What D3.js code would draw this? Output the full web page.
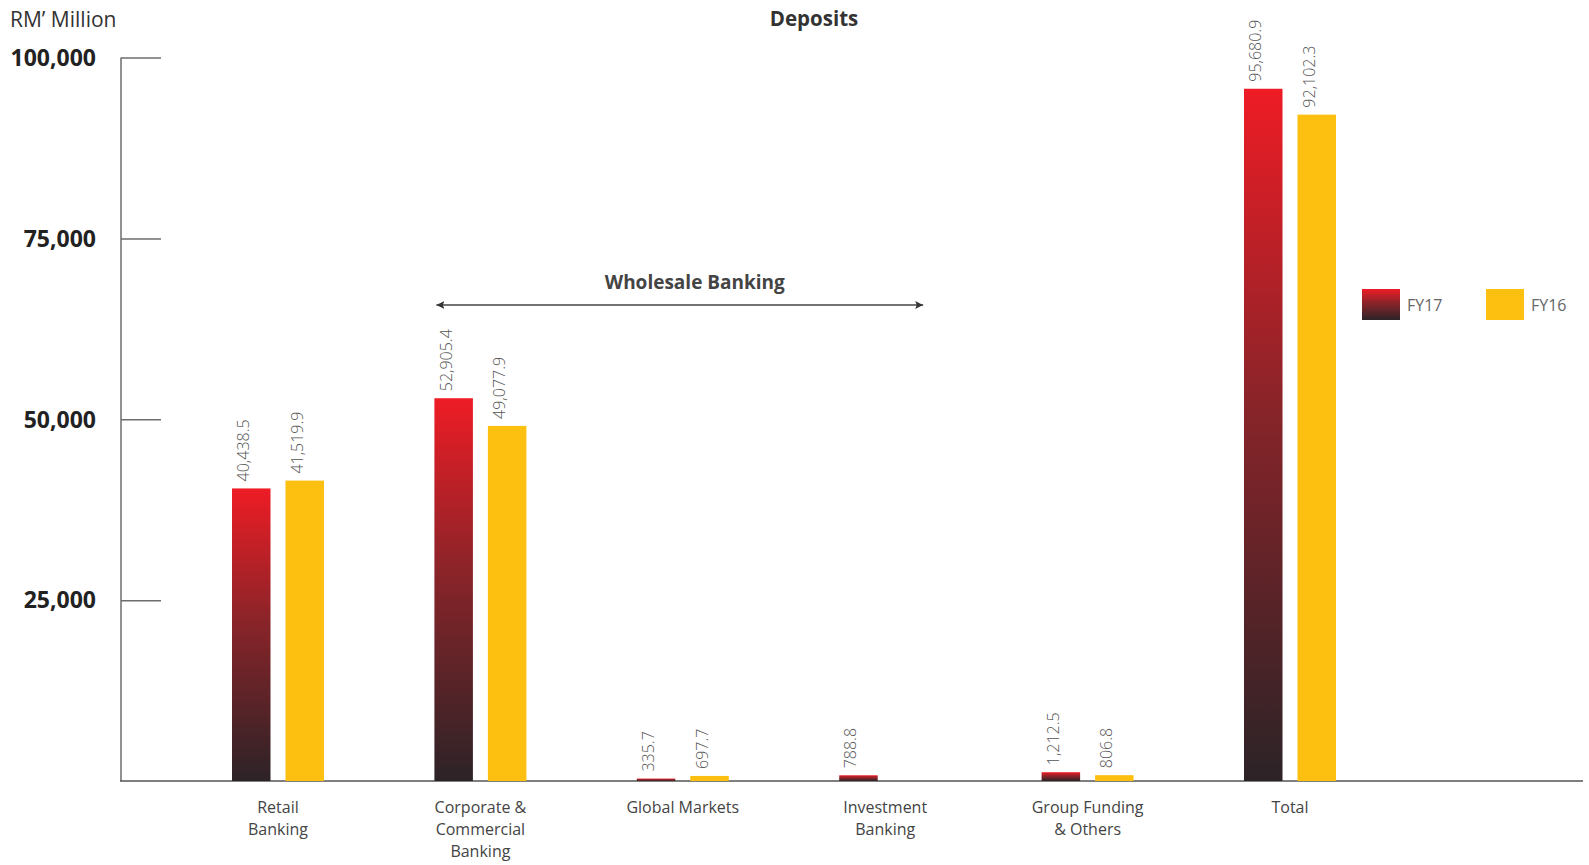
<!DOCTYPE html>
<html>
<head>
<meta charset="utf-8">
<script src="https://cdn.jsdelivr.net/npm/d3@7"></script>
<style>
  html, body { margin: 0; padding: 0; background: #fff; }
  svg { display: block; font-family: "Open Sans", "Noto Sans", sans-serif; }
</style>
</head>
<body>
<svg id="chart" width="1589" height="865"></svg>
<script>
const categories = [
  ["Retail", "Banking"],
  ["Corporate &", "Commercial", "Banking"],
  ["Global Markets"],
  ["Investment", "Banking"],
  ["Group Funding", "& Others"],
  ["Total"]
];
const seriesNames = ["FY17", "FY16"];
const fy17 = [40438.5, 52905.4, 335.7, 788.8, 1212.5, 95680.9];
const fy16 = [41519.9, 49077.9, 697.7, null, 806.8, 92102.3];
const yTicks = [25000, 50000, 75000, 100000];
const title = "Deposits";
const unitLabel = "RM\u2019 Million";
const bracketLabel = "Wholesale Banking";

const svg = d3.select("#chart");
const catKeys = categories.map(c => c.join(" "));

const y = d3.scaleLinear().domain([0, 100000]).range([781, 57.5]);
const step = 202.4, pi = 0.5455, po = 0.5;
const x0 = d3.scaleBand().domain(catKeys)
  .range([232 - po * step, 232 - po * step + step * (catKeys.length - pi + 2 * po)])
  .paddingInner(pi).paddingOuter(po);
const x1 = d3.scaleBand().domain(seriesNames).range([0, x0.bandwidth()]).paddingInner(0.28).paddingOuter(0);

// gradient for FY17
const defs = svg.append("defs");
const grad = defs.append("linearGradient").attr("id", "gradFY17")
  .attr("x1", 0).attr("y1", 0).attr("x2", 0).attr("y2", 1);
grad.append("stop").attr("offset", "0%").attr("stop-color", "#ee1c25");
grad.append("stop").attr("offset", "45%").attr("stop-color", "#8a2429");
grad.append("stop").attr("offset", "100%").attr("stop-color", "#2c2327");
const fills = { FY17: "url(#gradFY17)", FY16: "#fdc010" };

// Title + unit
svg.append("text").attr("x", 814).attr("y", 26).attr("text-anchor", "middle")
  .attr("font-size", 20.5).attr("font-weight", 700).attr("fill", "#333").text(title);
svg.append("text").attr("x", 10).attr("y", 27)
  .attr("font-size", 21).attr("fill", "#333").text(unitLabel);

// Y axis
const yAxis = d3.axisRight(y).tickValues(yTicks).tickSize(40).tickFormat("");
const gy = svg.append("g").attr("transform", "translate(121,0)").call(yAxis);
gy.select(".domain").remove();
gy.selectAll(".tick line").attr("stroke", "#6d6d6d").attr("stroke-width", 1.5);
svg.append("line").attr("x1", 121).attr("x2", 121).attr("y1", y(100000)).attr("y2", y(0))
  .attr("stroke", "#6d6d6d").attr("stroke-width", 1.5);
svg.append("g").selectAll("text").data(yTicks).join("text")
  .attr("x", 96).attr("y", d => y(d)).attr("dy", "0.36em")
  .attr("text-anchor", "end").attr("font-size", 23).attr("font-weight", 700)
  .attr("fill", "#222").text(d => d3.format(",")(d));

// baseline
svg.append("line").attr("x1", 120).attr("x2", 1583).attr("y1", y(0)).attr("y2", y(0))
  .attr("stroke", "#555").attr("stroke-width", 1.5);

// Bars
const rows = [];
catKeys.forEach((k, i) => {
  rows.push({ cat: k, s: "FY17", v: fy17[i] });
  if (fy16[i] != null) rows.push({ cat: k, s: "FY16", v: fy16[i] });
});
const gBars = svg.append("g");
gBars.selectAll("rect").data(rows).join("rect")
  .attr("x", d => x0(d.cat) + x1(d.s))
  .attr("y", d => y(d.v))
  .attr("width", x1.bandwidth())
  .attr("height", d => y(0) - y(d.v))
  .attr("fill", d => fills[d.s]);

// Value labels (rotated)
const fmt = d3.format(",.1f");
gBars.selectAll("text").data(rows).join("text")
  .attr("transform", d => {
    const cx = x0(d.cat) + x1(d.s) + x1.bandwidth() / 2 - 2;
    const ty = y(d.v) - 7;
    return `translate(${cx},${ty}) rotate(-90)`;
  })
  .attr("font-size", 16).attr("fill", "#555").attr("font-weight", 300)
  .text(d => fmt(d.v));

// Category labels
const gCat = svg.append("g");
categories.forEach((lines, i) => {
  const cx = x0(catKeys[i]) + x0.bandwidth() / 2;
  const t = gCat.append("text").attr("text-anchor", "middle")
    .attr("font-size", 16).attr("fill", "#444");
  lines.forEach((ln, j) => {
    t.append("tspan").attr("x", cx).attr("y", 813 + j * 22).text(ln);
  });
});

// Wholesale Banking bracket arrow
const ax1 = x0(catKeys[1]) + 2;
const ax2 = x0(catKeys[3]) + x0.bandwidth() / 2 + 38;
defs.append("marker").attr("id", "arrowEnd").attr("viewBox", "0 0 10 10")
  .attr("refX", 10).attr("refY", 5).attr("markerWidth", 8).attr("markerHeight", 8)
  .attr("markerUnits", "userSpaceOnUse").attr("orient", "auto-start-reverse")
  .append("path").attr("d", "M0,0 L10,5 L0,10 L2,5 z").attr("fill", "#333");
svg.append("line").attr("x1", ax1).attr("x2", ax2).attr("y1", 305).attr("y2", 305)
  .attr("stroke", "#444").attr("stroke-width", 1.5)
  .attr("marker-start", "url(#arrowEnd)").attr("marker-end", "url(#arrowEnd)");
svg.append("text").attr("x", (ax1 + ax2) / 2 + 15).attr("y", 289).attr("text-anchor", "middle")
  .attr("font-size", 19).attr("font-weight", 700).attr("fill", "#444").text(bracketLabel);

// Legend
const legendX = [1362, 1486];
const gLeg = svg.append("g");
seriesNames.forEach((s, i) => {
  gLeg.append("rect").attr("x", legendX[i]).attr("y", 289).attr("width", 38).attr("height", 31)
    .attr("fill", fills[s]);
  gLeg.append("text").attr("x", legendX[i] + 45).attr("y", 305).attr("dy", "0.36em")
    .attr("font-size", 16).attr("fill", "#666").text(s);
});
</script>
</body>
</html>
